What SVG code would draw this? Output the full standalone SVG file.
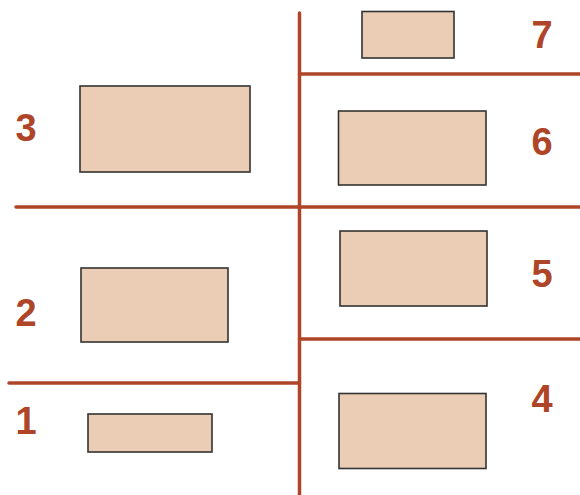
<svg xmlns="http://www.w3.org/2000/svg" width="580" height="495" viewBox="0 0 580 495">
<style>
.ln{stroke:#ae4528;stroke-width:3.5;stroke-linecap:round;fill:none}
.bx{fill:#eacdb4;stroke:#333;stroke-width:1.6}
.lb{font-family:"Liberation Sans",Arial,sans-serif;font-weight:bold;font-size:38px;fill:#ae4528;text-anchor:middle}
</style>
<rect width="580" height="495" fill="#fff"/>
<g id="connectors">
<line class="ln" x1="299.5" y1="13" x2="299.5" y2="495"/>
<line class="ln" x1="16" y1="207" x2="580" y2="207"/>
<line class="ln" x1="299.5" y1="74" x2="580" y2="74"/>
<line class="ln" x1="299.5" y1="339" x2="580" y2="339"/>
<line class="ln" x1="9" y1="383" x2="299.5" y2="383"/>
</g>
<g id="node3"><rect class="bx" x="80" y="86" width="170" height="86"/><text class="lb" x="26" y="141">3</text></g>
<g id="node2"><rect class="bx" x="81" y="268" width="147" height="74"/><text class="lb" x="26" y="326">2</text></g>
<g id="node1"><rect class="bx" x="88" y="414" width="124" height="38"/><text class="lb" x="26" y="434">1</text></g>
<g id="node7"><rect class="bx" x="362" y="11.5" width="92" height="46.5"/><text class="lb" x="542" y="48">7</text></g>
<g id="node6"><rect class="bx" x="338.5" y="111" width="147.5" height="74"/><text class="lb" x="542" y="155">6</text></g>
<g id="node5"><rect class="bx" x="340" y="231" width="147" height="75"/><text class="lb" x="542" y="287">5</text></g>
<g id="node4"><rect class="bx" x="339" y="393.5" width="147" height="75"/><text class="lb" x="542" y="412">4</text></g>
</svg>
